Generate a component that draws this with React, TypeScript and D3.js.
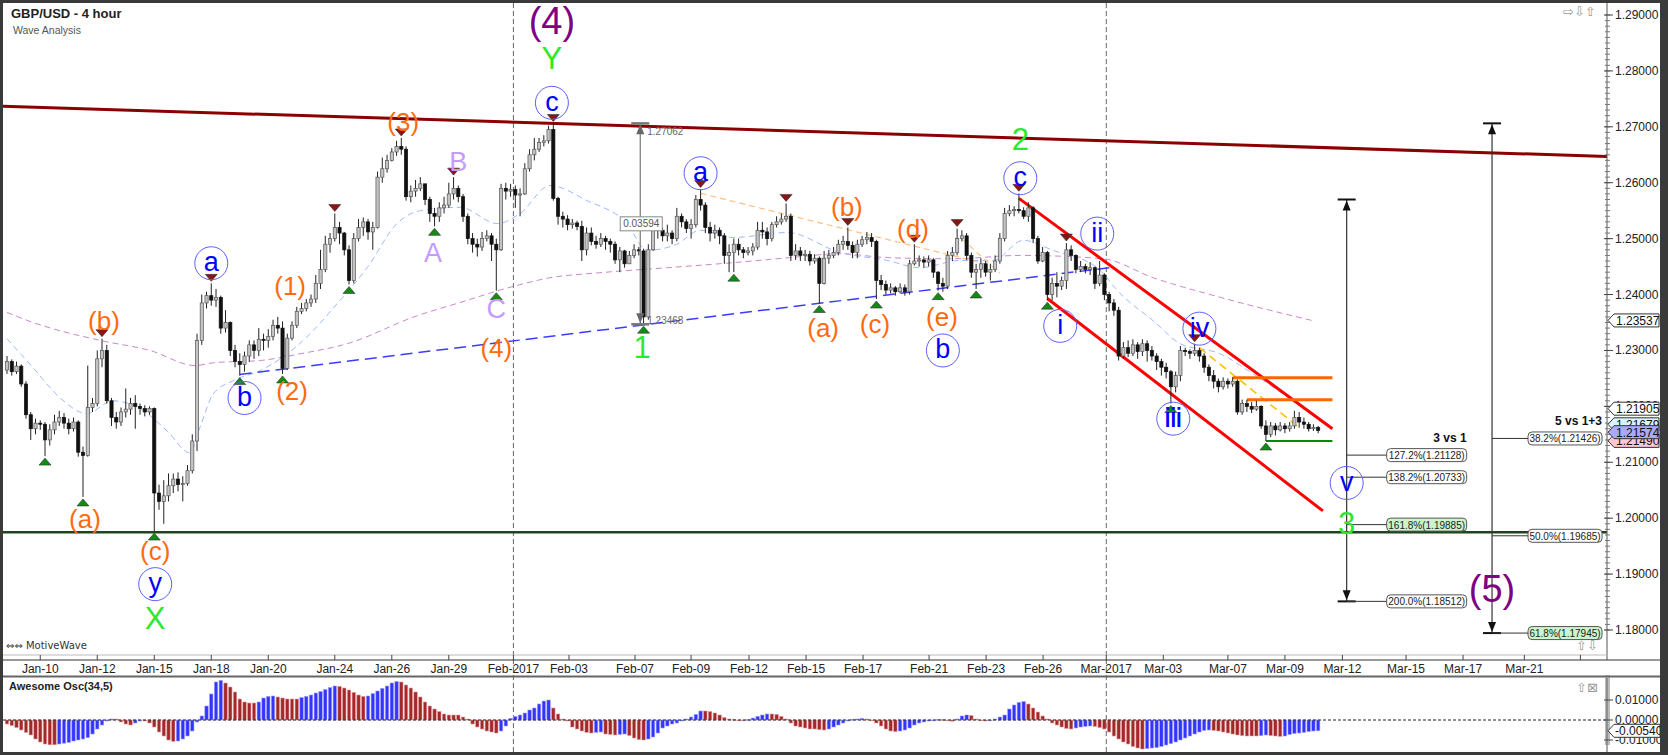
import React from 'react';
import * as d3 from 'd3';

// candles: [close, high, low] in 1/10000, open = previous close
type Bar = [number, number, number];

const firstOpen = 12265;

const janBars: Bar[] = [
  [12280, 12290, 12258], [12262, 12284, 12255], [12272, 12280, 12258], [12240, 12275, 12235], [12185, 12245, 12178],
  [12160, 12190, 12140], [12170, 12178, 12150], [12168, 12175, 12158], [12140, 12172, 12111], [12158, 12168, 12130],
  [12172, 12185, 12150], [12180, 12192, 12165], [12170, 12188, 12160], [12160, 12178, 12150], [12172, 12180, 12155],
  [12118, 12175, 12110], [12112, 12128, 12038], [12198, 12273, 12110], [12205, 12215, 12190], [12285, 12300, 12200],
  [12300, 12321, 12270], [12210, 12310, 12205], [12180, 12215, 12165], [12172, 12190, 12160], [12190, 12198, 12165],
  [12195, 12232, 12180], [12205, 12215, 12185], [12200, 12220, 12160], [12196, 12205, 12185], [12190, 12202, 12182],
  [12196, 12200, 12185], [12045, 12198, 11977], [12030, 12060, 12015], [12040, 12068, 11990], [12058, 12080, 12030],
  [12070, 12080, 12045], [12060, 12082, 12048], [12062, 12075, 12030], [12085, 12095, 12058], [12138, 12150, 12080],
  [12318, 12330, 12120], [12385, 12400, 12310], [12398, 12405, 12375], [12390, 12420, 12380], [12395, 12410, 12378],
  [12340, 12398, 12330], [12350, 12372, 12332], [12300, 12352, 12290], [12280, 12310, 12270], [12275, 12295, 12255],
  [12290, 12298, 12262], [12310, 12318, 12280], [12300, 12318, 12285], [12320, 12340, 12290], [12318, 12330, 12300],
  [12325, 12338, 12305], [12345, 12355, 12318], [12340, 12360, 12330], [12268, 12352, 12258], [12322, 12330, 12265],
  [12345, 12352, 12318], [12370, 12378, 12340], [12375, 12385, 12365], [12385, 12392, 12370], [12392, 12400, 12378],
  [12420, 12435, 12385], [12445, 12480, 12410], [12490, 12505, 12440], [12500, 12510, 12475], [12520, 12545, 12495],
  [12510, 12530, 12490], [12480, 12512, 12470], [12425, 12488, 12418], [12500, 12510, 12420], [12520, 12535, 12495],
  [12530, 12538, 12505], [12512, 12535, 12498], [12520, 12530, 12480], [12610, 12620, 12518], [12625, 12645, 12600],
  [12640, 12650, 12618], [12655, 12662, 12638], [12665, 12675, 12648], [12660, 12680, 12650], [12575, 12665, 12568],
  [12585, 12595, 12565], [12590, 12605, 12575], [12598, 12610, 12585], [12570, 12598, 12560], [12545, 12575, 12530],
  [12540, 12555, 12522], [12555, 12565, 12530], [12560, 12575, 12545], [12580, 12600, 12555], [12590, 12610, 12570],
  [12575, 12595, 12565], [12540, 12580, 12530], [12500, 12545, 12490], [12490, 12510, 12475], [12485, 12500, 12468],
  [12500, 12512, 12478], [12505, 12515, 12495], [12490, 12510, 12460], [12480, 12500, 12407], [12590, 12598, 12478],
  [12585, 12600, 12570], [12588, 12598, 12575],
];

const febBars: Bar[] = [
  [12578, 12595, 12555], [12580, 12590, 12540], [12625, 12635, 12578], [12650, 12660, 12620], [12660, 12680, 12640],
  [12672, 12680, 12655], [12675, 12685, 12665], [12695, 12702, 12670], [12572, 12706, 12568], [12540, 12575, 12525],
  [12535, 12548, 12520], [12525, 12542, 12515], [12528, 12535, 12518], [12522, 12532, 12515], [12480, 12532, 12460],
  [12510, 12520, 12470], [12495, 12520, 12488], [12490, 12505, 12482], [12500, 12510, 12485], [12495, 12505, 12480],
  [12490, 12500, 12475], [12462, 12495, 12455], [12478, 12485, 12440], [12455, 12480, 12448], [12470, 12478, 12455],
  [12480, 12490, 12465], [12478, 12485, 12470], [12360, 12482, 12347], [12480, 12490, 12355], [12520, 12530, 12478],
  [12515, 12528, 12500], [12505, 12520, 12495], [12510, 12525, 12495], [12500, 12515, 12490], [12540, 12555, 12495],
  [12530, 12545, 12520], [12518, 12535, 12510], [12525, 12535, 12500], [12570, 12578, 12520], [12560, 12588, 12550],
  [12520, 12565, 12510], [12510, 12530, 12495], [12515, 12525, 12500], [12505, 12520, 12490], [12470, 12510, 12455],
  [12475, 12490, 12440], [12490, 12500, 12440], [12480, 12500, 12470], [12475, 12485, 12465], [12478, 12485, 12470],
  [12485, 12492, 12470], [12515, 12530, 12480], [12512, 12530, 12500], [12500, 12520, 12488], [12525, 12530, 12495],
  [12530, 12540, 12520], [12535, 12545, 12525], [12540, 12563, 12530], [12470, 12545, 12460], [12478, 12490, 12462],
  [12470, 12485, 12460], [12472, 12480, 12460], [12460, 12478, 12452], [12465, 12472, 12455], [12420, 12468, 12384],
  [12465, 12478, 12418], [12470, 12480, 12455], [12475, 12485, 12465], [12490, 12498, 12470], [12495, 12505, 12480],
  [12488, 12520, 12480], [12475, 12495, 12465], [12490, 12498, 12465], [12498, 12505, 12485], [12502, 12512, 12490],
  [12495, 12510, 12485], [12425, 12498, 12392], [12418, 12435, 12408], [12408, 12425, 12400], [12412, 12420, 12402],
  [12405, 12415, 12398], [12412, 12420, 12402], [12405, 12418, 12398], [12455, 12462, 12400], [12460, 12490, 12452],
  [12462, 12470, 12450], [12458, 12468, 12448], [12462, 12470, 12450], [12440, 12465, 12430], [12420, 12442, 12407],
  [12415, 12430, 12405], [12470, 12478, 12410], [12475, 12485, 12460], [12500, 12518, 12470], [12505, 12515, 12495],
  [12470, 12510, 12462], [12440, 12475, 12430], [12445, 12455, 12410], [12455, 12465, 12430], [12440, 12460, 12432],
  [12445, 12455, 12425], [12460, 12470, 12440], [12500, 12510, 12455], [12545, 12555, 12495], [12550, 12560, 12540],
  [12552, 12558, 12540], [12550, 12581, 12545], [12540, 12556, 12535], [12555, 12565, 12530], [12500, 12558, 12492],
  [12460, 12505, 12455], [12475, 12485, 12458], [12400, 12478, 12390], [12420, 12430, 12390], [12415, 12440, 12395],
  [12425, 12432, 12408], [12480, 12492, 12410], [12470, 12488, 12460], [12445, 12472, 12438], [12450, 12460, 12440],
  [12445, 12455, 12438], [12448, 12458, 12435], [12420, 12450, 12410], [12435, 12460, 12415],
];

const marBars: Bar[] = [
  [12400, 12438, 12390], [12385, 12405, 12370], [12372, 12392, 12362], [12290, 12378, 12282], [12305, 12315, 12285],
  [12295, 12318, 12288], [12310, 12320, 12290], [12298, 12315, 12285], [12312, 12320, 12290], [12300, 12318, 12280],
  [12290, 12308, 12282], [12280, 12295, 12265], [12270, 12285, 12255], [12262, 12278, 12250], [12235, 12265, 12205],
  [12255, 12262, 12225], [12300, 12308, 12245], [12298, 12305, 12290], [12295, 12302, 12285], [12300, 12312, 12290],
  [12290, 12305, 12280], [12270, 12295, 12260], [12255, 12275, 12245], [12245, 12265, 12232], [12235, 12250, 12225],
  [12245, 12252, 12230], [12240, 12250, 12232], [12245, 12252, 12235], [12190, 12248, 12185], [12205, 12212, 12185],
  [12200, 12212, 12190], [12195, 12208, 12188], [12200, 12210, 12192], [12165, 12202, 12160], [12150, 12175, 12138],
  [12165, 12172, 12145], [12158, 12170, 12148], [12165, 12172, 12155], [12160, 12170, 12152], [12165, 12172, 12155],
  [12180, 12192, 12160], [12172, 12190, 12162], [12168, 12180, 12160], [12160, 12172, 12155], [12162, 12168, 12156],
  [12157, 12165, 12152],
];

// Awesome Oscillator, 1/10000
const aoValues: number[] = [
  -20, -28, -38, -50, -62, -75, -95, -110, -120, -124, -124, -120, -116, -112, -105, -100, -95, -88, -70, -45,
  -25, -5, 5, 5, -10, -20, -25, -15, -5, -5, -15, -35, -60, -80, -100, -107, -105, -95, -80, -55,
  -10, 20, 70, 130, 190, 198, 185, 165, 140, 105, 90, 85, 85, 90, 110, 118, 120, 115, 110, 105,
  105, 105, 112, 118, 125, 135, 142, 152, 162, 170, 168, 160, 150, 138, 125, 118, 120, 132, 145, 158,
  170, 185, 192, 190, 175, 160, 140, 115, 90, 70, 55, 42, 30, 25, 25, 25, 15, 5, -20, -35,
  -45, -55, -60, -65, -55, -30, 8, 18, 25, 35, 50, 60, 80, 95, 100, 60, 30, 5, -5, -35,
  -45, -55, -62, -65, -62, -60, -70, -72, -75, -72, -70, -78, -90, -98, -100, -95, -85, -65, -40, -30,
  -20, -15, -5, 5, 15, 28, 45, 45, 42, 35, 25, 12, 5, 3, 0, -3, 2, 10, 18, 25,
  30, 30, 28, 18, 5, -15, -30, -35, -40, -45, -45, -48, -50, -45, -35, -25, -15, -5, 3, 5,
  8, 5, -3, -15, -30, -45, -55, -58, -55, -50, -40, -25, -15, -10, -5, -3, 3, 2, -4, -6,
  5, 20, 25, 22, 5, -3, -5, -3, 5, 15, 25, 55, 75, 88, 92, 80, 60, 40, 20, 5,
  -15, -25, -35, -42, -45, -40, -35, -32, -30, -32, -38, -45, -60, -80, -95, -110, -120, -132, -140, -145,
  -143, -140, -138, -132, -125, -118, -110, -100, -90, -80, -70, -60, -52, -50, -52, -55, -60, -65, -70, -75,
  -78, -80, -80, -80, -78, -75, -78, -80, -82, -80, -72, -68, -65, -62, -58, -55, -54,
];

// moving averages: [bar index, price]
const fastMa: [number, number][] = [
  [0, 1.2321], [5.5, 1.2269], [11.2, 1.2215], [16.8, 1.2187], [22.3, 1.221], [28, 1.2196], [33.7, 1.2156],
  [38.5, 1.2117], [40.6, 1.2162], [43.4, 1.2222], [47.6, 1.2246], [53.3, 1.2264], [59, 1.2294], [64.4, 1.2335],
  [68.6, 1.2375], [75.8, 1.2448], [82.1, 1.2527], [87, 1.255], [95.4, 1.2556], [103.2, 1.2527], [108, 1.2545],
  [114.3, 1.2595], [122.1, 1.2568], [130.5, 1.2527], [134.7, 1.2479], [141, 1.249], [145.9, 1.2515],
  [152.8, 1.2502], [164.2, 1.2511], [175.4, 1.2475], [185.3, 1.2461], [192.2, 1.2448], [200.6, 1.2461],
  [207.6, 1.2461], [213.9, 1.2497], [220.2, 1.2479], [229.5, 1.2448], [234.3, 1.2402], [241.3, 1.2353],
  [247, 1.2312], [255.4, 1.2294], [262.3, 1.2258], [273.7, 1.2192],
];
const slowMa: [number, number][] = [
  [0, 1.2368], [5.5, 1.235], [19.6, 1.2318], [30.1, 1.23], [39.6, 1.2273], [43.4, 1.2278], [53.3, 1.2282],
  [61.7, 1.2294], [71.6, 1.2312], [86.3, 1.2362], [94.7, 1.2384], [105.9, 1.2413], [114.3, 1.243],
  [124.8, 1.2439], [139, 1.2448], [152.8, 1.2457], [164.8, 1.2466], [175.4, 1.2473], [185.3, 1.2466],
  [199.2, 1.2464], [213.3, 1.247], [230.7, 1.2464], [241.3, 1.243], [255.4, 1.2395], [275, 1.2353],
];

const dateTicks: [string, number][] = [
  ['Jan-10', 7], ['Jan-12', 19], ['Jan-15', 31], ['Jan-18', 43], ['Jan-20', 55], ['Jan-24', 69], ['Jan-26', 81],
  ['Jan-29', 93], ['Feb-2017', 106.6], ['Feb-03', 118.3], ['Feb-07', 132.2], ['Feb-09', 144], ['Feb-12', 156.2],
  ['Feb-15', 168.2], ['Feb-17', 180.2], ['Feb-21', 194.1], ['Feb-23', 206.1], ['Feb-26', 218.1],
  ['Mar-2017', 231.4], ['Mar-03', 243.4], ['Mar-07', 257], ['Mar-09', 269], ['Mar-12', 281.1],
  ['Mar-15', 294.5], ['Mar-17', 306.5], ['Mar-21', 319.4], ['', 331.2],
];
const monthStarts = [106.6, 231.4];
const priceTicks = [1.18, 1.19, 1.2, 1.21, 1.22, 1.23, 1.24, 1.25, 1.26, 1.27, 1.28, 1.29];
const oscTicks = [0.01, 0, -0.01];

const highMarks = [20, 43, 69, 83, 94, 115, 146, 164, 177, 191, 200, 213, 223, 250];
const lowMarks = [8, 16, 31, 49, 58, 72, 90, 103, 134, 153, 171, 183, 196, 204, 219, 245, 265];

type Kind = 'orange' | 'blue' | 'lav' | 'green' | 'purple';
const waveLabels: [string, number, number, Kind][] = [
  ['(a)', 16.4, 1.1999, 'orange'], ['(b)', 20.4, 1.2353, 'orange'], ['(c)', 31.2, 1.1941, 'orange'],
  ['(1)', 59.6, 1.2416, 'orange'], ['(2)', 60, 1.2228, 'orange'], ['(3)', 83.4, 1.2708, 'orange'],
  ['(4)', 103, 1.2305, 'orange'], ['(a)', 171.8, 1.2341, 'orange'], ['(b)', 176.8, 1.2556, 'orange'],
  ['(c)', 182.7, 1.2348, 'orange'], ['(d)', 190.7, 1.2518, 'orange'], ['(e)', 196.8, 1.2359, 'orange'],
  ['y', 31.2, 1.1882, 'blue'], ['a', 43, 1.2456, 'blue'], ['b', 50, 1.2215, 'blue'], ['c', 114.7, 1.2743, 'blue'],
  ['a', 146, 1.2617, 'blue'], ['b', 197, 1.23, 'blue'], ['c', 213.3, 1.2608, 'blue'], ['i', 221.7, 1.2344, 'blue'],
  ['ii', 229.5, 1.2509, 'blue'], ['iii', 245.5, 1.2178, 'blue'], ['iv', 251, 1.2339, 'blue'], ['v', 282, 1.2063, 'blue'],
  ['A', 89.7, 1.2475, 'lav'], ['B', 95, 1.2637, 'lav'], ['C', 103, 1.2375, 'lav'],
  ['X', 31.2, 1.1821, 'green'], ['Y', 114.7, 1.2823, 'green'], ['1', 133.7, 1.2305, 'green'],
  ['2', 213.3, 1.2678, 'green'], ['3', 282, 1.1991, 'green'],
  ['(4)', 114.7, 1.2889, 'purple'], ['(5)', 312.6, 1.1873, 'purple'],
];

type Trend = { a: [number, number]; b: [number, number]; color: string; w: number; dash?: string };
const trendLines: Trend[] = [
  { a: [-1.5, 1.2737], b: [337, 1.2647], color: '#8b0000', w: 3 },
  { a: [-1.5, 1.1975], b: [337, 1.1975], color: '#1f451f', w: 2.5 },
  { a: [49, 1.2257], b: [233, 1.2449], color: '#3c3cff', w: 1.5, dash: '12 6' },
  { a: [146, 1.2581], b: [206, 1.2455], color: '#ffbf80', w: 1.2, dash: '6 4' },
  { a: [201, 1.25], b: [209, 1.2438], color: '#ffbf80', w: 1.2, dash: '6 4' },
  { a: [213, 1.2572], b: [279, 1.216], color: '#ff0000', w: 3 },
  { a: [219, 1.2393], b: [277, 1.2013], color: '#ff0000', w: 3 },
  { a: [251, 1.2305], b: [272, 1.2162], color: '#ffc000', w: 1.6, dash: '8 5' },
  { a: [258, 1.2251], b: [279, 1.2251], color: '#ff6600', w: 3 },
  { a: [261, 1.2212], b: [279, 1.2212], color: '#ff6600', w: 3 },
  { a: [265, 1.2138], b: [279, 1.2138], color: '#008a00', w: 2 },
];

type Level = [string, number, boolean];
const fibThreeVsOne = { title: '3 vs 1', i: 282, top: 1.257, bottom: 1.18512, gap: 40, boxW: 80 };
const fibThreeLevels: Level[] = [
  ['127.2%', 1.21128, false], ['138.2%', 1.20733, false], ['161.8%', 1.19885, true], ['200.0%', 1.18512, false],
];
const fibFiveVsOneThree = { title: '5 vs 1+3', i: 312.6, top: 1.27062, bottom: 1.17945, gap: 36, boxW: 74 };
const fibFiveLevels: Level[] = [
  ['38.2%', 1.21426, false], ['50.0%', 1.19685, false], ['61.8%', 1.17945, true],
];
const rangeMeasure = { i: 133.3, top: 1.27062, bottom: 1.23468 };

const priceFlags: [number, string][] = [
  [1.23537, '#ffffff'], [1.21679, '#d8f4ff'], [1.2149, '#ffc8d0'], [1.21905, '#ffffff'], [1.21574, '#a9a9ff'],
];
const flagOffsets = [0, 0, 6, -3, 2];

const FONT = 'Liberation Sans, Arial, sans-serif';
const W = 1668;
const H = 755;
const PLOT_R = 1607;
const MAIN_T = 3;
const MAIN_B = 655;
const OSC_T = 678;
const OSC_B = 752;

export default function App() {
  const bars = [...janBars, ...febBars, ...marBars];
  const candles = bars.map(([c, h, l], i) => ({
    i,
    o: (i === 0 ? firstOpen : bars[i - 1][0]) / 1e4,
    h: h / 1e4,
    l: l / 1e4,
    c: c / 1e4,
  }));

  const x = d3.scaleLinear().domain([0, 336.8]).range([7, PLOT_R]);
  const y = d3.scaleLinear().domain([1.18, 1.29]).range([630, 15]);
  const yo = d3.scaleLinear().domain([-0.01, 0.01]).range([740, 700]);

  const maLine = d3
    .line<[number, number]>()
    .x((d) => x(d[0]))
    .y((d) => y(d[1]))
    .curve(d3.curveMonotoneX);

  const labelStyle: Record<Kind, { fill: string; size: number }> = {
    orange: { fill: '#ff6a0e', size: 26 },
    blue: { fill: '#0000ff', size: 27 },
    lav: { fill: '#c39cff', size: 27 },
    green: { fill: '#2ee82e', size: 31 },
    purple: { fill: '#800080', size: 38 },
  };

  const minorTicks = d3.range(1180, 1291).map((v) => v / 1000);
  const oscMinor = d3.range(-12, 23).map((v) => v / 1000);

  const fibMeasure = (
    m: { title: string; i: number; top: number; bottom: number; gap: number; boxW: number },
    levels: Level[],
  ) => {
    const cx = x(m.i);
    const yt = y(m.top);
    const yb = y(m.bottom);
    const bx = cx + m.gap;
    return (
      <g key={m.title}>
        <line x1={cx} x2={cx} y1={yt} y2={yb} stroke="#333" strokeWidth={1.2} />
        <line x1={cx - 9} x2={cx + 9} y1={yt} y2={yt} stroke="#111" strokeWidth={2} />
        <polygon points={`${cx},${yt + 1} ${cx - 4},${yt + 11} ${cx + 4},${yt + 11}`} fill="#111" />
        <line x1={cx - 9} x2={cx + 9} y1={yb} y2={yb} stroke="#111" strokeWidth={2} />
        <polygon points={`${cx},${yb - 1} ${cx - 4},${yb - 11} ${cx + 4},${yb - 11}`} fill="#111" />
        <text
          x={bx + m.boxW}
          y={y(levels[0][1]) - 13}
          textAnchor="end"
          fontFamily={FONT}
          fontSize={12}
          fontWeight="bold"
          fill="#111"
        >
          {m.title}
        </text>
        {levels.map(([pct, v, hi]) => (
          <g key={pct}>
            <line x1={cx} x2={bx} y1={y(v)} y2={y(v)} stroke="#333" strokeWidth={1} />
            <rect
              x={bx}
              y={y(v) - 6.5}
              width={m.boxW}
              height={13}
              rx={4}
              fill={hi ? '#ccf5cc' : '#ffffff'}
              stroke="#555"
              strokeWidth={1}
            />
            <text
              x={bx + m.boxW / 2}
              y={y(v) + 0.5}
              textAnchor="middle"
              dominantBaseline="central"
              fontFamily={FONT}
              fontSize={10}
              fill="#222"
            >
              {`${pct}(${v.toFixed(5)})`}
            </text>
          </g>
        ))}
      </g>
    );
  };

  const rx = x(rangeMeasure.i);
  const rTop = y(rangeMeasure.top);
  const rBot = y(rangeMeasure.bottom);
  const lastAo = aoValues[aoValues.length - 1] / 1e4;

  return (
    <div>
      <style>{`body{margin:0;}`}</style>
      <svg width={W} height={H} style={{ display: 'block', background: '#fff' }}>
        <defs>
          <clipPath id="mainClip">
            <rect x={3} y={MAIN_T} width={PLOT_R - 3} height={MAIN_B - MAIN_T} />
          </clipPath>
          <clipPath id="oscClip">
            <rect x={3} y={OSC_T} width={PLOT_R - 3} height={OSC_B - OSC_T} />
          </clipPath>
        </defs>

        {/* month separators */}
        {monthStarts.map((m) => (
          <line key={m} x1={x(m)} x2={x(m)} y1={MAIN_T} y2={OSC_B} stroke="#666" strokeDasharray="5 3" />
        ))}

        <g clipPath="url(#mainClip)">
          <path d={maLine(slowMa) ?? ''} fill="none" stroke="#cc88cc" strokeWidth={1} strokeDasharray="6 4" />
          <path d={maLine(fastMa) ?? ''} fill="none" stroke="#9db9ff" strokeWidth={1} strokeDasharray="6 4" />

          {trendLines.map((t, k) => (
            <line
              key={k}
              x1={x(t.a[0])}
              y1={y(t.a[1])}
              x2={x(t.b[0])}
              y2={y(t.b[1])}
              stroke={t.color}
              strokeWidth={t.w}
              strokeDasharray={t.dash}
            />
          ))}

          {candles.map((d) => {
            const cx = x(d.i);
            const up = d.c >= d.o;
            const top = y(Math.max(d.o, d.c));
            const hgt = Math.max(1, Math.abs(y(d.o) - y(d.c)));
            return (
              <g key={d.i}>
                <line x1={cx} x2={cx} y1={y(d.h)} y2={y(d.l)} stroke="#222" strokeWidth={1} />
                <rect
                  x={cx - 1.6}
                  y={top}
                  width={3.2}
                  height={hgt}
                  fill={up ? '#c4c4c4' : '#111'}
                  stroke={up ? '#555' : '#111'}
                  strokeWidth={0.7}
                />
              </g>
            );
          })}

          {highMarks.map((i) => {
            const cx = x(i);
            const t = y(candles[i].h) - 2;
            return (
              <polygon
                key={`h${i}`}
                points={`${cx - 6},${t - 7} ${cx + 6},${t - 7} ${cx},${t}`}
                fill="#8b1414"
                stroke="#333"
                strokeWidth={0.6}
              />
            );
          })}
          {lowMarks.map((i) => {
            const cx = x(i);
            const b = y(candles[i].l) + 2;
            return (
              <polygon
                key={`l${i}`}
                points={`${cx - 6},${b + 7} ${cx + 6},${b + 7} ${cx},${b}`}
                fill="#138a13"
                stroke="#333"
                strokeWidth={0.6}
              />
            );
          })}

          {/* range measure between c and 1 */}
          <g>
            <line x1={rx} x2={rx} y1={rTop} y2={rBot} stroke="#777" strokeWidth={1.2} />
            <line x1={rx - 9} x2={rx + 9} y1={rTop} y2={rTop} stroke="#777" strokeWidth={2.5} />
            <polygon points={`${rx},${rTop + 1} ${rx - 4},${rTop + 11} ${rx + 4},${rTop + 11}`} fill="#666" />
            <line x1={rx - 9} x2={rx + 9} y1={rBot} y2={rBot} stroke="#777" strokeWidth={2.5} />
            <polygon points={`${rx},${rBot - 1} ${rx - 4},${rBot - 11} ${rx + 4},${rBot - 11}`} fill="#666" />
            <text x={rx + 7} y={rTop + 8} fontFamily={FONT} fontSize={10} fill="#666" dominantBaseline="central">
              {rangeMeasure.top.toFixed(5)}
            </text>
            <text x={rx + 7} y={rBot - 4} fontFamily={FONT} fontSize={10} fill="#666" dominantBaseline="central">
              {rangeMeasure.bottom.toFixed(5)}
            </text>
            <rect x={rx - 20} y={(rTop + rBot) / 2 - 7} width={42} height={14} fill="#fff" stroke="#888" />
            <text
              x={rx + 1}
              y={(rTop + rBot) / 2}
              textAnchor="middle"
              dominantBaseline="central"
              fontFamily={FONT}
              fontSize={10}
              fill="#555"
            >
              {(rangeMeasure.top - rangeMeasure.bottom).toFixed(5)}
            </text>
          </g>

          {fibMeasure(fibThreeVsOne, fibThreeLevels)}
          {fibMeasure(fibFiveVsOneThree, fibFiveLevels)}

          {waveLabels.map(([t, i, p, kind], k) => {
            const st = labelStyle[kind];
            const cx = x(i);
            const cy = y(p);
            const wide = kind === 'blue' && t.length > 2;
            return (
              <g key={`w${k}`}>
                {kind === 'blue' && (
                  <circle cx={cx} cy={cy} r={16.5} fill="none" stroke="#5e5eff" strokeWidth={1} />
                )}
                <text
                  x={cx}
                  y={kind === 'blue' ? cy - 1 : cy}
                  textAnchor="middle"
                  dominantBaseline="central"
                  fontFamily={FONT}
                  fontSize={st.size}
                  fontWeight={wide ? 'bold' : 'normal'}
                  textLength={wide ? 17 : undefined}
                  lengthAdjust={wide ? 'spacingAndGlyphs' : undefined}
                  fill={st.fill}
                >
                  {t}
                </text>
              </g>
            );
          })}
        </g>

        {/* header */}
        <text x={11} y={18} fontFamily={FONT} fontSize={13} fontWeight="bold" fill="#222">
          GBP/USD - 4 hour
        </text>
        <text x={13} y={34} fontFamily={FONT} fontSize={10.5} fill="#555">
          Wave Analysis
        </text>
        <text x={6} y={649} fontFamily="DejaVu Sans, sans-serif" fontSize={10} fill="#333">
          ⇔⇔ MotiveWave
        </text>
        <text x={1563} y={16} fontFamily="DejaVu Sans, sans-serif" fontSize={13} fill="#999">
          ⇨⇩⇧
        </text>
        <text x={1576} y={650} fontFamily="DejaVu Sans, sans-serif" fontSize={13} fill="#999">
          ⇧⇩
        </text>
        <text x={1576} y={692} fontFamily="DejaVu Sans, sans-serif" fontSize={13} fill="#999">
          ⇧⊠
        </text>

        {/* price axis */}
        <line x1={PLOT_R} x2={PLOT_R} y1={MAIN_T} y2={660} stroke="#555" />
        {minorTicks.map((v) => (
          <line key={v} x1={PLOT_R - 2} x2={PLOT_R + 3} y1={y(v)} y2={y(v)} stroke="#777" />
        ))}
        {priceTicks.map((v) => (
          <g key={v}>
            <line x1={PLOT_R - 3} x2={PLOT_R + 6} y1={y(v)} y2={y(v)} stroke="#444" />
            <text x={PLOT_R + 8} y={y(v)} dominantBaseline="central" fontFamily={FONT} fontSize={12} fill="#222">
              {v.toFixed(5)}
            </text>
          </g>
        ))}
        {priceFlags.map(([v, fill], k) => {
          const fy = y(v) + flagOffsets[k];
          return (
            <g key={`f${k}`}>
              <path
                d={`M${PLOT_R + 1},${fy} L${PLOT_R + 7},${fy - 6.5} H${PLOT_R + 52} V${fy + 6.5} H${PLOT_R + 7} Z`}
                fill={fill}
                stroke="#333"
                strokeWidth={1}
              />
              <text
                x={PLOT_R + 9}
                y={fy + 0.5}
                dominantBaseline="central"
                fontFamily={FONT}
                fontSize={12}
                fill="#111"
              >
                {v.toFixed(5)}
              </text>
            </g>
          );
        })}

        {/* date axis */}
        <line x1={3} x2={PLOT_R} y1={MAIN_B} y2={MAIN_B} stroke="#bbb" />
        <line x1={3} x2={1660} y1={660} y2={660} stroke="#333" strokeWidth={1.2} />
        {dateTicks.map(([t, i]) => (
          <g key={`${t}${i}`}>
            <line x1={x(i)} x2={x(i)} y1={MAIN_B} y2={660} stroke="#444" />
            <text x={x(i)} y={669} textAnchor="middle" dominantBaseline="central" fontFamily={FONT} fontSize={12} fill="#222">
              {t}
            </text>
          </g>
        ))}
        <line x1={0} x2={W} y1={676.5} y2={676.5} stroke="#666" strokeWidth={2} />

        {/* oscillator */}
        <text x={9} y={690} fontFamily={FONT} fontSize={11} fontWeight="bold" fill="#222">
          Awesome Osc(34,5)
        </text>
        <g clipPath="url(#oscClip)">
          {aoValues.map((v, i) => {
            const val = v / 1e4;
            const up = i === 0 ? false : v > aoValues[i - 1];
            const y0 = yo(0);
            const y1 = yo(val);
            return (
              <rect
                key={`o${i}`}
                x={x(i) - 1.7}
                y={Math.min(y0, y1)}
                width={3.4}
                height={Math.max(0.8, Math.abs(y1 - y0))}
                fill={up ? '#3434ff' : '#a3282a'}
                stroke={up ? '#9a9aff' : '#e09a9a'}
                strokeWidth={0.6}
              />
            );
          })}
        </g>
        <line x1={3} x2={PLOT_R} y1={yo(0)} y2={yo(0)} stroke="#222" strokeDasharray="3 2" />
        <line x1={PLOT_R} x2={PLOT_R} y1={OSC_T} y2={OSC_B} stroke="#555" />
        {oscMinor.map((v) => (
          <line key={`om${v}`} x1={PLOT_R - 2} x2={PLOT_R + 3} y1={yo(v)} y2={yo(v)} stroke="#777" />
        ))}
        {oscTicks.map((v) => (
          <g key={`ot${v}`}>
            <line x1={PLOT_R - 3} x2={PLOT_R + 6} y1={yo(v)} y2={yo(v)} stroke="#444" />
            <text x={PLOT_R + 8} y={yo(v)} dominantBaseline="central" fontFamily={FONT} fontSize={12} fill="#222">
              {v.toFixed(5)}
            </text>
          </g>
        ))}
        <path d={`M${PLOT_R + 1},${yo(lastAo)} l6,-6.5 h46 v13 h-46 Z`} fill="#fff" stroke="#333" />
        <text
          x={PLOT_R + 8}
          y={yo(lastAo) + 0.5}
          dominantBaseline="central"
          fontFamily={FONT}
          fontSize={12}
          fill="#111"
        >
          {lastAo.toFixed(5)}
        </text>

        {/* frame */}
        <rect x={0} y={0} width={W} height={3} fill="#3a3a3a" />
        <rect x={0} y={0} width={3} height={H} fill="#3a3a3a" />
        <rect x={0} y={752} width={W} height={3} fill="#3a3a3a" />
        <rect x={1660} y={0} width={8} height={H} fill="#3a3a3a" />
      </svg>
    </div>
  );
}
